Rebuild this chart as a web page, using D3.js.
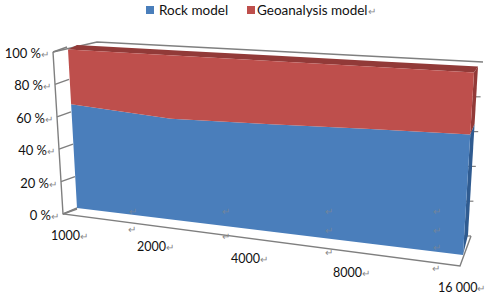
<!DOCTYPE html>
<html>
<head>
<meta charset="utf-8">
<script src="https://cdn.jsdelivr.net/npm/d3@7"></script>
<style>
body{margin:0;background:#fff;}
text{font-family:Lato,"Open Sans",sans-serif;fill:#111;}
.ret{fill:#8a8a8a;font-size:10px;}
</style>
</head>
<body>
<svg id="chart" width="489" height="295"></svg>
<script>
var categories = ["1000","2000","4000","8000","16 000"];
var rockModel = [65.4,61.4,62.9,64.7,66];
var geoModel = [34.6,38.6,37.1,35.3,34];
var percentTicks = [0,20,40,60,80,100];
var seriesNames = ["Rock model","Geoanalysis model"];

var blue = "#4a7ebb", red = "#be4f4c", darkRed = "#923a38", darkBlue = "#2f5b90", grid = "#7f7f7f";

var svg = d3.select("#chart");

// corners of the front and back plane of the 3d area
var front = {tl:[68,49.5],tr:[474,72.5],bl:[77,208],br:[463,255]};
var back = {tl:[77,45],tr:[478,66.5],bl:[82,205],br:[468,235]};

var u = d3.scalePoint().domain(categories).range([0,1]);
var v = d3.scaleLinear().domain([0,100]).range([0,1]);

function project(plane,a,b){
	var bx = plane.bl[0] + (plane.br[0]-plane.bl[0])*a;
	var by = plane.bl[1] + (plane.br[1]-plane.bl[1])*a;
	var tx = plane.tl[0] + (plane.tr[0]-plane.tl[0])*a;
	var ty = plane.tl[1] + (plane.tr[1]-plane.tl[1])*a;
	return [bx+(tx-bx)*b, by+(ty-by)*b];
}

var table = categories.map(function(c,i){
	return {cat:c, rock:rockModel[i], geo:geoModel[i]};
});
var stack = d3.stack().keys(["rock","geo"])(table);

// frame
var wallLeft = d3.scaleLinear().domain([0,100]).range([63,53]);
var wallY = d3.scaleLinear().domain([0,100]).range([214,52]);
var wallRight = d3.scaleLinear().domain([0,100]).range([471,483]);
var wallRightY = d3.scaleLinear().domain([0,100]).range([236,62]);
var line = d3.line();

function framePath(pts){
	svg.append("path").attr("d",line(pts)).attr("fill","none")
		.attr("stroke",grid).attr("stroke-width",1.4);
}
framePath([[wallLeft(100),wallY(100)],[97,42],[483,62]]);
framePath([[wallLeft(100),wallY(100)],[wallLeft(0),wallY(0)],[460,266],[471,236]]);
framePath([[wallLeft(0),wallY(0)],[77,208]]);

svg.selectAll(".lefttick").data(percentTicks).enter().append("line")
	.attr("x1",function(d){return wallLeft(d)})
	.attr("y1",function(d){return wallY(d)})
	.attr("x2",function(d){return wallLeft(d)+14})
	.attr("y2",function(d){return wallY(d)-5})
	.attr("stroke",grid).attr("stroke-width",1.4);

svg.selectAll(".righttick").data(percentTicks.slice(0,5)).enter().append("line")
	.attr("x1",function(d){return wallRight(d)-8})
	.attr("y1",function(d){return wallRightY(d)})
	.attr("x2",function(d){return wallRight(d)})
	.attr("y2",function(d){return wallRightY(d)})
	.attr("stroke",grid).attr("stroke-width",1.2);

// right side of the series
var colors = [blue,red];
var sideColors = [darkBlue,darkRed];
stack.forEach(function(s,k){
	var last = s[s.length-1];
	var pts = [
		project(front,1,v(last[0])),
		project(back,1,v(last[0])),
		project(back,1,v(last[1])),
		project(front,1,v(last[1]))
	];
	svg.append("path").attr("d",line(pts)+"Z").attr("fill",sideColors[k]);
});

// top band of the upper series
var topS = stack[1];
var topPts = topS.map(function(d){return project(front,u(d.data.cat),v(d[1]))})
	.concat(topS.slice().reverse().map(function(d){return project(back,u(d.data.cat),v(d[1]))}));
svg.append("path").attr("d",line(topPts)+"Z").attr("fill",darkRed);

// front faces
var area = d3.area()
	.x0(function(d){return project(front,u(d.data.cat),v(d[0]))[0]})
	.y0(function(d){return project(front,u(d.data.cat),v(d[0]))[1]})
	.x1(function(d){return project(front,u(d.data.cat),v(d[1]))[0]})
	.y1(function(d){return project(front,u(d.data.cat),v(d[1]))[1]});

svg.selectAll(".face").data(stack).enter().append("path")
	.attr("class","face")
	.attr("d",area)
	.attr("fill",function(d,i){return colors[i]});

// text helper: label followed by the grey return mark
function label(x,y,t,size,anchor){
	var el = svg.append("text").attr("x",x).attr("y",y).attr("text-anchor",anchor||"start")
		.style("font-size",size+"px");
	el.append("tspan").text(t);
	el.append("tspan").text("\u21b5").style("fill","#8a8a8a").style("font-size","10px");
}

percentTicks.forEach(function(d){
	label(wallLeft(d)-4,wallY(d)+6,d+" %",13,"end");
});

var labelX = d3.scaleOrdinal().domain(categories).range([51,137,231,333,438]);
var labelY = d3.scaleOrdinal().domain(categories).range([240,251,263,277,292]);
categories.forEach(function(c){
	label(labelX(c),labelY(c),c,12.5);
});

// stray return marks left in the picture
var strayMarks = [[128,233],[222,240],[325,256],[432,272],[129,215],[222,215],[325,215],[433,215],[325,234],[433,234],[433,251]];
svg.selectAll(".ret").data(strayMarks).enter().append("text")
	.attr("class","ret")
	.attr("x",function(d){return d[0]})
	.attr("y",function(d){return d[1]})
	.attr("opacity",function(d){return d[1] < 230 || d[0] > 300 && d[1] < 252 ? 0.6 : 1})
	.text("\u21b5");

// legend
svg.append("rect").attr("x",146).attr("y",6).attr("width",8).attr("height",8).attr("fill",blue);
svg.append("text").attr("x",159).attr("y",14.5).style("font-size","13.5px").text(seriesNames[0]);
svg.append("rect").attr("x",247).attr("y",6).attr("width",8).attr("height",8).attr("fill",red);
label(257,14.5,seriesNames[1],13.5);
</script>
</body>
</html>
